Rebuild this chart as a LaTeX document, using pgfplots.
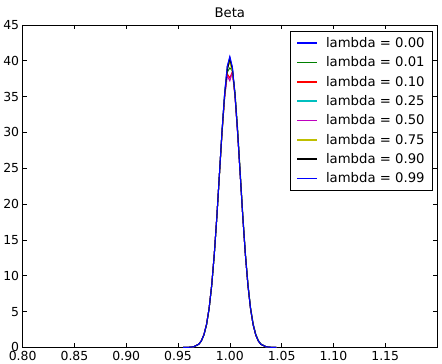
\documentclass[border=0pt]{standalone}
\usepackage{fontspec}
\setmainfont{DejaVu Sans}
\usepackage{pgfplots}
\pgfplotsset{compat=1.18}

\definecolor{mb}{rgb}{0,0,1}
\definecolor{mg}{rgb}{0,0.5,0}
\definecolor{mr}{rgb}{1,0,0}
\definecolor{mc}{rgb}{0,0.75,0.75}
\definecolor{mm}{rgb}{0.75,0,0.75}
\definecolor{my}{rgb}{0.75,0.75,0}

\begin{document}
\begin{tikzpicture}[x=1bp,y=1bp]
\begin{axis}[
  scale only axis,
  width=415bp, height=323bp,
  xmin=0.80, xmax=1.20, ymin=0, ymax=45,
  xtick={0.80,0.85,0.90,0.95,1.00,1.05,1.10,1.15},
  ytick={0,5,...,45},
  xticklabel style={/pgf/number format/fixed,/pgf/number format/fixed zerofill,/pgf/number format/precision=2},
  /pgf/number format/assume math mode=true,
  tick label style={font=\fontsize{12.5}{14}\selectfont},
  tick align=inside, major tick length=4bp,
  tick style={black, line width=0.6bp},
  axis line style={black, line width=0.8bp},
  title={Beta},
  title style={font=\fontsize{13.3}{15}\selectfont, yshift=-2bp},
  legend style={at={(0.990,0.981)}, anchor=north east,
    font=\fontsize{13.3}{16}\selectfont, draw=black, line width=0.6bp,
    row sep=3.8bp, column sep=6bp, inner xsep=6bp, inner ysep=4bp},
  legend cell align=left,
  legend image code/.code={\draw[#1, line width=1.6bp] (0bp,0bp) -- (20bp,0bp);},
  every axis plot/.append style={line width=1.0bp, mark=none},
]
% lambda = 0.00
\addplot[mb] coordinates {
(0.955,0.002)(0.96,0.013)(0.965,0.09)(0.97,0.45)(0.9725,0.92)(0.975,1.78)(0.9775,3.2)(0.98,5.45)(0.9825,8.7)(0.985,13.0)(0.9875,18.3)(0.99,24.3)(0.9925,30.3)(0.995,35.5)(0.9975,39.2)(1.0,40.5)(1.0025,39.0)(1.005,35.2)(1.0075,30.0)(1.01,24.2)(1.0125,18.3)(1.015,13.0)(1.0175,8.7)(1.02,5.45)(1.0225,3.2)(1.025,1.78)(1.0275,0.92)(1.03,0.45)(1.035,0.09)(1.04,0.014)(1.045,0.002)};
\addlegendentry{lambda = 0.00}
% lambda = 0.01
\addplot[mg] coordinates {
(0.955,0.002)(0.96,0.013)(0.965,0.09)(0.97,0.44)(0.9725,0.9)(0.975,1.75)(0.9775,3.15)(0.98,5.35)(0.9825,8.6)(0.985,12.9)(0.9875,18.2)(0.99,24.1)(0.9925,29.9)(0.995,34.9)(0.9975,38.4)(1.0,39.0)(1.0025,38.6)(1.005,35.6)(1.0075,30.6)(1.01,24.6)(1.0125,18.6)(1.015,13.2)(1.0175,8.9)(1.02,5.6)(1.0225,3.35)(1.025,1.9)(1.0275,1.0)(1.03,0.5)(1.035,0.11)(1.04,0.018)(1.045,0.002)};
\addlegendentry{lambda = 0.01}
% lambda = 0.10
\addplot[mr] coordinates {
(0.955,0.002)(0.96,0.014)(0.965,0.09)(0.97,0.46)(0.9725,0.93)(0.975,1.8)(0.9775,3.22)(0.98,5.47)(0.9825,8.72)(0.985,13.05)(0.9875,18.35)(0.99,24.2)(0.9925,30.0)(0.995,35.0)(0.9975,38.2)(1.0,37.6)(1.0025,38.5)(1.005,35.1)(1.0075,30.0)(1.01,24.2)(1.0125,18.3)(1.015,13.0)(1.0175,8.65)(1.02,5.4)(1.0225,3.18)(1.025,1.76)(1.0275,0.91)(1.03,0.44)(1.035,0.088)(1.04,0.013)(1.045,0.002)};
\addlegendentry{lambda = 0.10}
% lambda = 0.25
\addplot[mc] coordinates {
(0.955,0.002)(0.96,0.013)(0.965,0.088)(0.97,0.44)(0.9725,0.91)(0.975,1.76)(0.9775,3.18)(0.98,5.41)(0.9825,8.65)(0.985,12.99)(0.9875,18.31)(0.99,24.26)(0.9925,30.2)(0.995,35.3)(0.9975,38.9)(1.0,40.2)(1.0025,38.7)(1.005,35.2)(1.0075,30.1)(1.01,24.2)(1.0125,18.3)(1.015,13.0)(1.0175,8.65)(1.02,5.41)(1.0225,3.18)(1.025,1.76)(1.0275,0.91)(1.03,0.44)(1.035,0.088)(1.04,0.013)(1.045,0.002)};
\addlegendentry{lambda = 0.25}
% lambda = 0.50
\addplot[mm] coordinates {
(0.955,0.002)(0.96,0.014)(0.965,0.092)(0.97,0.46)(0.9725,0.94)(0.975,1.8)(0.9775,3.24)(0.98,5.5)(0.9825,8.75)(0.985,13.1)(0.9875,18.4)(0.99,24.3)(0.9925,30.1)(0.995,34.9)(0.9975,37.9)(1.0,37.2)(1.0025,38.4)(1.005,35.0)(1.0075,29.9)(1.01,24.1)(1.0125,18.2)(1.015,12.9)(1.0175,8.6)(1.02,5.38)(1.0225,3.16)(1.025,1.74)(1.0275,0.9)(1.03,0.43)(1.035,0.086)(1.04,0.013)(1.045,0.002)};
\addlegendentry{lambda = 0.50}
% lambda = 0.75
\addplot[my] coordinates {
(0.955,0.002)(0.96,0.013)(0.965,0.088)(0.97,0.44)(0.9725,0.91)(0.975,1.76)(0.9775,3.18)(0.98,5.41)(0.9825,8.65)(0.985,12.99)(0.9875,18.3)(0.99,24.2)(0.9925,30.1)(0.995,35.2)(0.9975,39.0)(1.0,39.8)(1.0025,38.5)(1.005,35.2)(1.0075,30.2)(1.01,24.3)(1.0125,18.35)(1.015,13.0)(1.0175,8.68)(1.02,5.43)(1.0225,3.2)(1.025,1.77)(1.0275,0.92)(1.03,0.45)(1.035,0.09)(1.04,0.013)(1.045,0.002)};
\addlegendentry{lambda = 0.75}
% lambda = 0.90
\addplot[black] coordinates {
(0.955,0.002)(0.96,0.013)(0.965,0.088)(0.97,0.44)(0.9725,0.91)(0.975,1.76)(0.9775,3.18)(0.98,5.41)(0.9825,8.65)(0.985,12.99)(0.9875,18.31)(0.99,24.26)(0.9925,30.2)(0.995,35.3)(0.9975,38.6)(1.0,40.3)(1.0025,38.8)(1.005,35.3)(1.0075,30.2)(1.01,24.26)(1.0125,18.31)(1.015,12.99)(1.0175,8.65)(1.02,5.41)(1.0225,3.18)(1.025,1.76)(1.0275,0.91)(1.03,0.44)(1.035,0.088)(1.04,0.013)(1.045,0.002)};
\addlegendentry{lambda = 0.90}
% lambda = 0.99
\addplot[mb] coordinates {
(0.955,0.002)(0.96,0.013)(0.965,0.09)(0.97,0.45)(0.9725,0.92)(0.975,1.78)(0.9775,3.2)(0.98,5.44)(0.9825,8.7)(0.985,13.0)(0.9875,18.3)(0.99,24.3)(0.9925,30.3)(0.995,35.4)(0.9975,39.2)(1.0,40.6)(1.0025,39.1)(1.005,35.3)(1.0075,30.1)(1.01,24.2)(1.0125,18.3)(1.015,13.0)(1.0175,8.7)(1.02,5.44)(1.0225,3.2)(1.025,1.78)(1.0275,0.92)(1.03,0.45)(1.035,0.09)(1.04,0.014)(1.045,0.002)};
\addlegendentry{lambda = 0.99}
\end{axis}
% fix the page frame around the axis
\useasboundingbox (-22bp,-16bp) rectangle (420bp,348bp);
\end{tikzpicture}
\end{document}
